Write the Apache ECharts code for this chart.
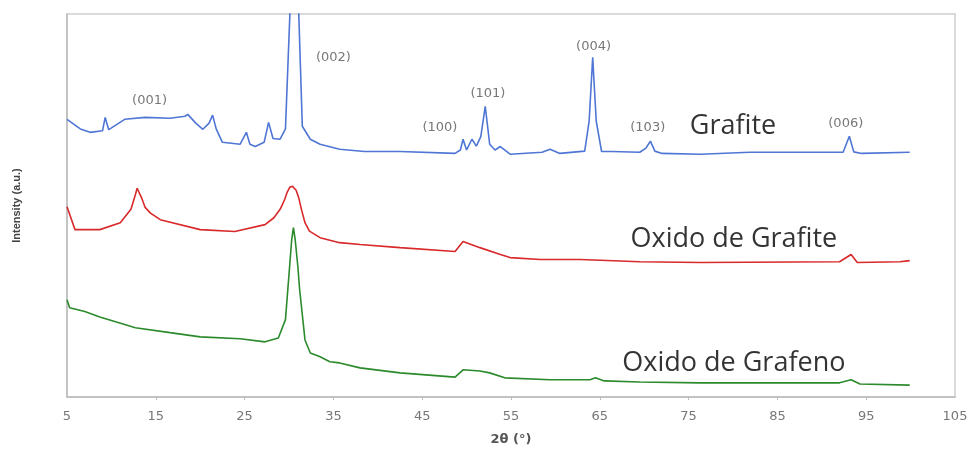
<!DOCTYPE html>
<html>
<head>
<meta charset="utf-8">
<script src="https://cdn.jsdelivr.net/npm/echarts@6/dist/echarts.min.js"></script>
<style>
  html, body { margin: 0; padding: 0; background: #fff; }
  #chart { width: 976px; height: 451px; }
</style>
</head>
<body>
<div id="chart"></div>
<script>
// 2θ (deg) vs intensity (a.u., traces already offset as in the figure)
const grafite = [
  [5, 72.5], [6.5, 70], [7.6, 69.1], [9.0, 69.5], [9.3, 73.0], [9.7, 69.8],
  [11.5, 72.5], [13.8, 73.0], [16.6, 72.8], [18.3, 73.3], [18.6, 73.8],
  [19.5, 71.5], [20.3, 69.9], [21.0, 71.5], [21.4, 73.6], [21.8, 70],
  [22.5, 66.5], [24.5, 66.0], [25.2, 69.1], [25.6, 66], [26.2, 65.4],
  [27.2, 66.5], [27.7, 71.7], [28.2, 67.5], [29.0, 67.3], [29.6, 70],
  [30.1, 100], [30.6, 175], [31.1, 100], [31.5, 70.7], [32.4, 67.3],
  [33.5, 66.0], [35.7, 64.7], [38.5, 64.1], [42.5, 64.1], [48.7, 63.6],
  [49.3, 64.5], [49.6, 67.3], [50.0, 64.5], [50.6, 67.3], [51.1, 65.5],
  [51.6, 68], [52.1, 75.9], [52.6, 66], [53.2, 64.5], [53.8, 65.4],
  [54.9, 63.4], [58.5, 63.9], [59.4, 64.7], [60.5, 63.6], [63.3, 64.2],
  [63.8, 72], [64.2, 88.7], [64.6, 72], [65.2, 64.1], [66.3, 64.1],
  [69.5, 63.9], [70.2, 65], [70.7, 66.8], [71.2, 64.2], [72.0, 63.6],
  [76.3, 63.4], [81.9, 63.9], [92.4, 63.9], [93.1, 68.1], [93.6, 64],
  [94.5, 63.6], [99.9, 63.9]
];
const oxidoGrafite = [
  [5, 49.7], [5.9, 43.7], [8.7, 43.7], [11.0, 45.5], [12.2, 49], [12.6, 52],
  [12.9, 54.5], [13.1, 54.5], [13.4, 52], [13.8, 49.5], [14.4, 48],
  [15.5, 46.3], [20.0, 43.7], [23.9, 43.2], [27.3, 45.0], [28.3, 46.8],
  [29.0, 49.0], [29.5, 51.5], [29.8, 53.5], [30.1, 54.8], [30.4, 55.0],
  [30.8, 54], [31.1, 52], [31.4, 49], [31.8, 45.5], [32.3, 43.3],
  [33.5, 41.6], [35.7, 40.3], [38.0, 39.8], [42.5, 39.0], [48.7, 38.0],
  [49.6, 40.6], [51.5, 39.0], [53.8, 37.2], [54.9, 36.4], [58.3, 35.9],
  [62.8, 35.9], [69.5, 35.3], [76.3, 35.1], [92.0, 35.3], [93.3, 37.2],
  [94.0, 35.1], [98.8, 35.3], [99.9, 35.6]
];
const oxidoGrafeno = [
  [5, 25.4], [5.3, 23.3], [7.0, 22.3], [8.7, 20.9], [12.7, 18.1],
  [16.6, 16.8], [20.0, 15.7], [24.5, 15.2], [27.3, 14.4], [28.8, 15.4],
  [29.6, 20.2], [30.0, 32], [30.3, 41], [30.5, 44.2], [30.7, 41],
  [31.0, 34], [31.2, 28.0], [31.8, 14.9], [32.4, 11.5], [33.5, 10.5],
  [34.6, 9.2], [35.7, 8.9], [38.0, 7.6], [42.5, 6.3], [48.7, 5.2],
  [49.6, 7.1], [51.5, 6.8], [52.6, 6.3], [54.3, 5.0], [59.4, 4.5],
  [63.9, 4.5], [64.5, 5.0], [65.5, 4.2], [69.5, 3.9], [76.3, 3.7],
  [92.0, 3.7], [93.3, 4.5], [94.3, 3.4], [99.9, 3.1]
];

const xTicks = [5, 15, 25, 35, 45, 55, 65, 75, 85, 95, 105];

// Miller index labels, placed in data coordinates
const peakNames = ['(001)', '(002)', '(100)', '(101)', '(004)', '(103)', '(006)'];
const peakSpots = [[14.3, 77.5], [35.0, 88.7], [47.0, 70.4], [52.4, 79.1],
                   [64.3, 91.4], [70.4, 70.4], [92.7, 71.5]];

const sampleNames = ['Grafite', 'Oxido de Grafite', 'Oxido de Grafeno'];
const sampleSpots = [[80.0, 70.7], [80.1, 41.1], [80.1, 8.9]];

const chart = echarts.init(document.getElementById('chart'));

function trace(name, data, color) {
  return {
    name, type: 'line', data,
    showSymbol: false, clip: true,
    lineStyle: { color, width: 1.6 },
    z: 2,
  };
}

function textLayer(names, spots, label) {
  return {
    type: 'scatter',
    symbolSize: 1,
    itemStyle: { color: 'rgba(0,0,0,0)' },
    silent: true,
    z: 5,
    labelLayout: { hideOverlap: false },
    label: Object.assign({ show: true, position: 'inside', formatter: p => p.name }, label),
    data: names.map((n, i) => ({ name: n, value: spots[i] })),
  };
}

chart.setOption({
  animation: false,
  grid: {
    left: 67, right: 21, top: 14, bottom: 54,
    show: true, borderColor: '#d0d0d0', borderWidth: 1.5,
  },
  xAxis: {
    type: 'value', min: 5, max: 105,
    name: '2θ (°)', nameLocation: 'middle', nameGap: 36,
    nameTextStyle: { fontFamily: 'DejaVu Sans', fontSize: 13, fontWeight: 'bold', color: '#555' },
    axisLine: { lineStyle: { color: '#bbb', width: 1.5 } },
    axisTick: { customValues: xTicks.slice(1, -1), length: 3, lineStyle: { color: '#bbb' } },
    axisLabel: {
      customValues: xTicks, margin: 13,
      fontFamily: 'DejaVu Sans', fontSize: 13, color: '#777',
    },
    splitLine: { show: false },
  },
  yAxis: {
    type: 'value', min: 0, max: 100,
    name: 'Intensity (a.u.)', nameLocation: 'middle', nameGap: 45, nameRotate: 90,
    nameTextStyle: { fontFamily: 'Liberation Sans', fontSize: 11, fontWeight: 'bold', color: '#444' },
    axisLine: { show: true, lineStyle: { color: '#bbb', width: 1.5 } },
    axisTick: { show: false },
    axisLabel: { show: false },
    splitLine: { show: false },
  },
  series: [
    trace('Grafite', grafite, '#4f76d4'),
    trace('Oxido de Grafite', oxidoGrafite, '#d8292b'),
    trace('Oxido de Grafeno', oxidoGrafeno, '#2b8a2b'),
    textLayer(peakNames, peakSpots, {
      fontFamily: 'DejaVu Sans', fontSize: 13, color: '#555',
    }),
    textLayer(sampleNames, sampleSpots, {
      fontFamily: 'Open Sans', fontSize: 27, color: '#000',
    }),
  ],
});
</script>
</body>
</html>
